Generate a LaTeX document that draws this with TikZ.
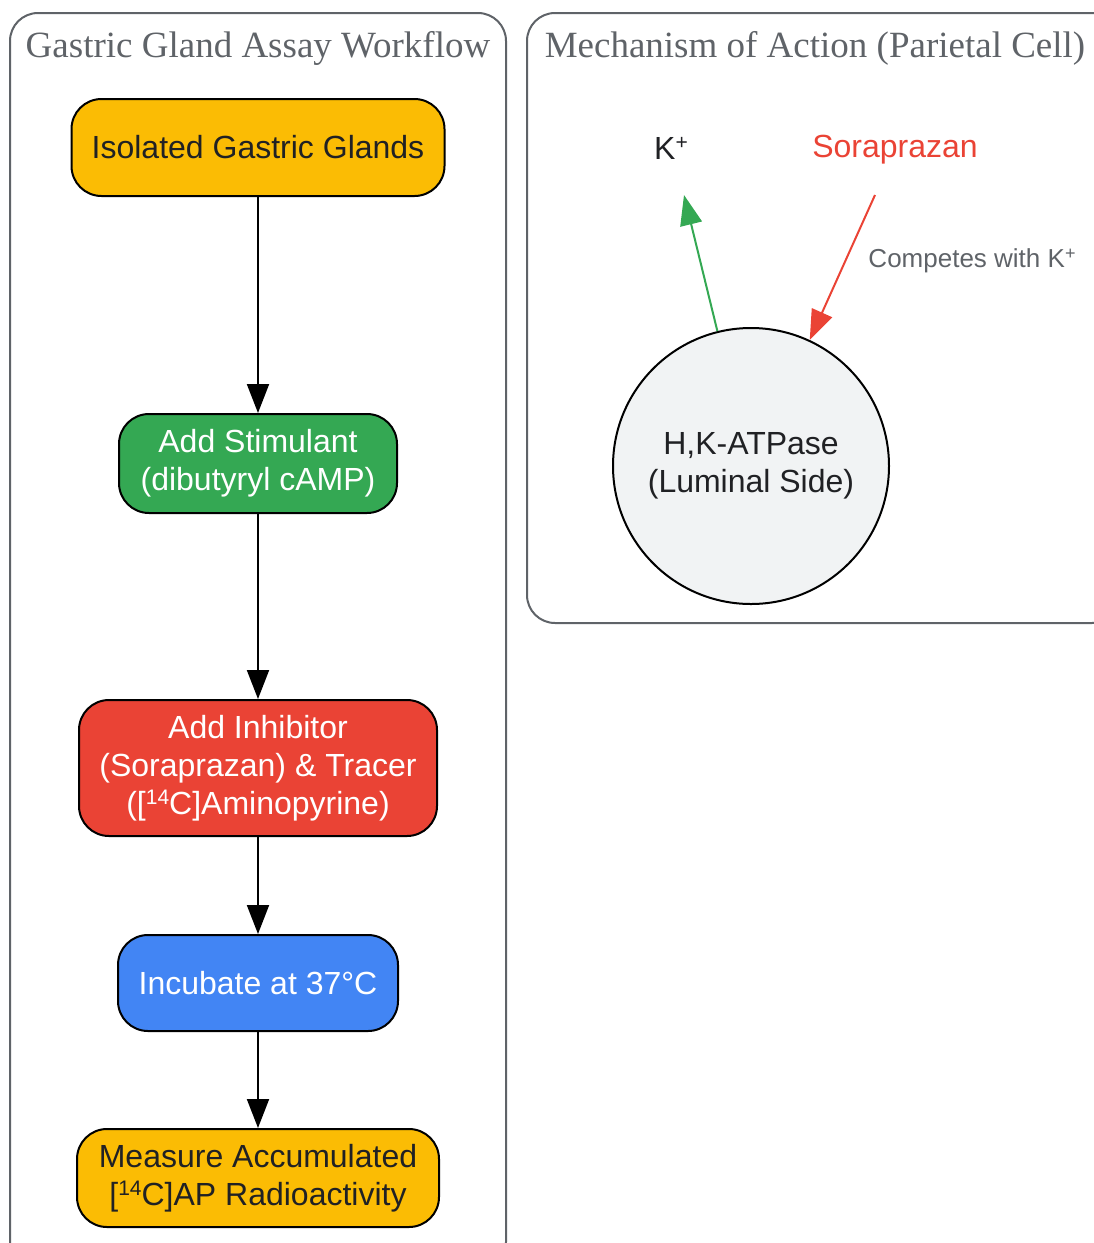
\documentclass[tikz,border=0pt]{standalone}
\usepackage{fontspec}
\setmainfont{Liberation Serif}
\setsansfont{Liberation Sans}
\usetikzlibrary{arrows.meta}
\definecolor{gyellow}{HTML}{FBBC04}
\definecolor{ggreen}{HTML}{34A853}
\definecolor{gred}{HTML}{EA4335}
\definecolor{gblue}{HTML}{4285F4}
\definecolor{ggray}{HTML}{5F6368}
\definecolor{gdark}{HTML}{202124}
\definecolor{glight}{HTML}{F1F3F4}
\newcommand{\supr}[1]{\raisebox{0.3em}{\fontsize{21}{21}\selectfont #1}}
\newcommand{\supl}[1]{\raisebox{0.3em}{\fontsize{18}{18}\selectfont #1}}
\tikzset{
  cluster/.style={draw=ggray, line width=2pt, rounded corners=28pt},
  ctitle/.style={font=\fontsize{37}{42}\selectfont, text=ggray, anchor=center},
  stepbox/.style={draw=black, line width=2pt, rounded corners=30pt, align=center,
     font=\sffamily\fontsize{32}{38}\selectfont, inner sep=0pt},
  flow/.style={draw=black, line width=2pt, -{Triangle[length=29pt,width=22pt]}},
}
\begin{document}
\begin{tikzpicture}[x=1pt,y=-1pt]
\useasboundingbox (0,0) rectangle (1094,1243);
% clusters
\draw[cluster] (10,13) rectangle (506,1270);
\draw[cluster] (527,13) rectangle (1120,623);
\node[ctitle] (t1) at (258,48) {Gastric Gland Assay Workflow};
\node[ctitle] (t2) at (815,48) {Mechanism of Action (Parietal Cell)};
% workflow nodes
\node[stepbox, fill=gyellow, text=gdark, minimum width=373pt, minimum height=97pt] (n1) at (258,147.5) {Isolated Gastric Glands};
\node[stepbox, fill=ggreen, text=white, minimum width=278pt, minimum height=99pt] (n2) at (258,463.5) {Add Stimulant\\(dibutyryl cAMP)};
\node[stepbox, fill=gred, text=white, minimum width=358pt, minimum height=136pt] (n3) at (258,768) {Add Inhibitor\\(Soraprazan) \& Tracer\\([\supr{14}C]Aminopyrine)};
\node[stepbox, fill=gblue, text=white, minimum width=280pt, minimum height=96pt] (n4) at (258,983) {Incubate at 37°C};
\node[stepbox, fill=gyellow, text=gdark, minimum width=362pt, minimum height=98pt] (n5) at (258,1178) {Measure Accumulated\\{}[\supr{14}C]AP Radioactivity};
\draw[flow] (n1) -- (n2);
\draw[flow] (n2) -- (n3);
\draw[flow] (n3) -- (n4);
\draw[flow] (n4) -- (n5);
% mechanism
\node[circle, draw=black, line width=2pt, fill=glight, minimum size=276pt, inner sep=0pt, align=center,
      text=gdark, font=\sffamily\fontsize{32}{38}\selectfont] (pump) at (751,466) {H,K-ATPase\\(Luminal Side)};
\node[font=\sffamily\fontsize{32}{36}\selectfont, text=gdark] (kion) at (671,148) {K\supr{+}};
\node[font=\sffamily\fontsize{32}{36}\selectfont, text=gred] (sora) at (895,150) {Soraprazan};
\coordinate (kend) at (684,195);
\coordinate (sstart) at (875,195);
\draw[draw=ggreen, line width=2pt, -{Triangle[length=30pt,width=22pt]}] (pump.104) -- (kend);
\draw[draw=gred, line width=2pt, -{Triangle[length=30pt,width=22pt]}] (sstart) -- (pump.65);
\node[font=\sffamily\fontsize{26}{30}\selectfont, text=ggray] (lbl) at (972,261) {Competes with K\supl{+}};
\end{tikzpicture}
\end{document}
